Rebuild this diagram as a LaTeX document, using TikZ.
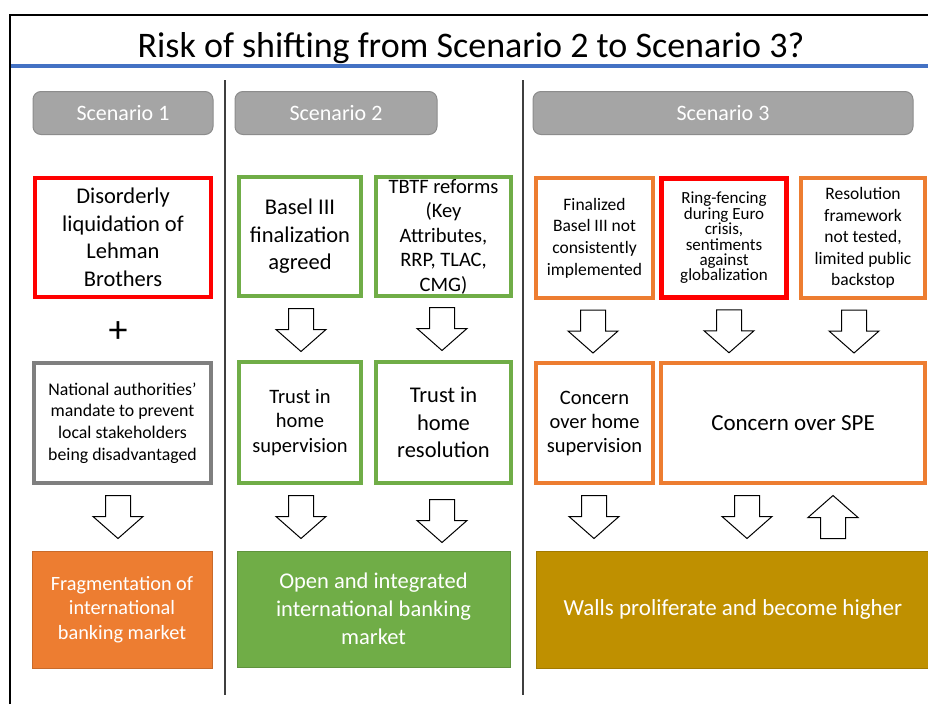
\documentclass[tikz,border=0pt]{standalone}
\usepackage{fontspec}
\setmainfont{Carlito}
\usetikzlibrary{calc}

\definecolor{bred}{HTML}{FF0000}
\definecolor{bgreen}{HTML}{70AD47}
\definecolor{borange}{HTML}{ED7D31}
\definecolor{bgold}{HTML}{BF9000}
\definecolor{bgray}{HTML}{7F7F7F}
\definecolor{hdrfill}{HTML}{A5A5A5}
\definecolor{hdrline}{HTML}{8C8C8C}
\definecolor{titleblue}{HTML}{4472C4}
\definecolor{divider}{HTML}{3F3F3F}

\newcommand{\fs}[2]{\fontsize{#1}{#2}\selectfont}

\tikzset{
  every node/.style={inner sep=0pt, outer sep=0pt, align=center},
  hdr/.style={draw=hdrline, line width=1pt, fill=hdrfill, rounded corners=8pt,
    text=white, font=\fs{22}{26}, minimum height=43pt},
  obox/.style={draw=#1, line width=4pt, fill=white},
  fbox/.style={draw=#1!85!black, line width=1pt, fill=#1, text=white},
  arrowline/.style={draw=black, line width=1pt, fill=white, line join=miter},
  blockdown/.pic={\draw[arrowline] (-12.5,-21.5) -- (12.5,-21.5) -- (12.5,-0.5)
    -- (25,-0.5) -- (0,21.5) -- (-25,-0.5) -- (-12.5,-0.5) -- cycle;},
  blockup/.pic={\draw[arrowline] (-12.5,21.5) -- (12.5,21.5) -- (12.5,0.5)
    -- (25,0.5) -- (0,-21.5) -- (-25,0.5) -- (-12.5,0.5) -- cycle;},
}

% block arrow below node #1, half way down to the top of node #2, shifted by #3
\newcommand{\flowdown}[3]{\pic at ($(#1.south)!0.5!(#1.south|-#2.north)+(#3)$) {blockdown};}
\newcommand{\flowup}[3]{\pic at ($(#1.south)!0.5!(#1.south|-#2.north)+(#3)$) {blockup};}

\begin{document}
\begin{tikzpicture}[x=1pt, y=-1pt]
  \useasboundingbox (0,0) rectangle (928,704);
  \fill[white] (0,0) rectangle (928,704);

  % slide frame, title and rule
  \draw[line width=2.5pt] (10,704) -- (10,15) -- (930,15);
  \node[anchor=base, font=\fs{36}{40}] (title) at (471,57) {Risk of shifting from Scenario 2 to Scenario 3?};
  \draw[titleblue, line width=4pt] (11,66) -- (930,66);

  % column separators
  \draw[divider, line width=1.2pt] (225,80) -- (225,695);
  \draw[divider, line width=1.2pt] (523,80) -- (523,695);

  % column headers
  \node[hdr, minimum width=180pt] (s1) at (123,113) {Scenario 1};
  \node[hdr, minimum width=202pt] (s2) at (336,113) {Scenario 2};
  \node[hdr, minimum width=380pt] (s3) at (723,113) {Scenario 3};

  % first row
  \node[obox=bred, minimum width=176pt, minimum height=119pt, font=\fs{22.5}{27.5}]
    (lehman) at (123,237.5) {Disorderly\\liquidation of\\Lehman\\Brothers};
  \node[obox=bgreen, minimum width=122pt, minimum height=119pt, font=\fs{22.5}{27.5}]
    (basel) at (300,236.5) {Basel III\\finalization\\agreed};
  \node[obox=bgreen, minimum width=135pt, minimum height=119pt, font=\fs{20.5}{24.5}]
    (tbtf) at (443.5,236.5) {TBTF reforms\\(Key\\Attributes,\\RRP, TLAC,\\CMG)};
  \node[obox=borange, minimum width=117pt, minimum height=120pt, font=\fs{17.5}{21.7}]
    (finbasel) at (594.5,238) {Finalized\\Basel III not\\consistently\\implemented};
  \node[obox=bred, line width=5pt, minimum width=125pt, minimum height=119pt, font=\fs{17}{15.4}]
    (ring) at (724,238) {Ring-fencing\\during Euro\\crisis,\\sentiments\\against\\globalization};
  \node[obox=borange, minimum width=124pt, minimum height=120pt, font=\fs{17.5}{21.6}]
    (resfw) at (863,238) {Resolution\\framework\\not tested,\\limited public\\backstop};

  \node[font=\fs{38}{40}] (plus) at (118,332) {+};

  % second row
  \node[obox=bgray, minimum width=177pt, minimum height=120pt, font=\fs{17.8}{21.7}]
    (national) at (122.5,423) {National authorities’\\mandate to prevent\\local stakeholders\\being disadvantaged};
  \node[obox=bgreen, minimum width=122pt, minimum height=121pt, font=\fs{20.5}{24.5}]
    (trustsup) at (300,422.5) {Trust in\\home\\supervision};
  \node[obox=bgreen, minimum width=135pt, minimum height=121pt, font=\fs{22.5}{27.5}]
    (trustres) at (443.5,422.5) {Trust in\\home\\resolution};
  \node[obox=borange, minimum width=117pt, minimum height=120pt, font=\fs{20.5}{24}]
    (concsup) at (594.5,423) {Concern\\over home\\supervision};
  \node[obox=borange, minimum width=264pt, minimum height=120pt, font=\fs{23}{27}]
    (spe) at (793,423) {Concern over SPE};

  % outcomes
  \node[fbox=borange, minimum width=180pt, minimum height=117pt, font=\fs{20.3}{24.5}]
    (frag) at (122,609.5) {Fragmentation of\\international\\banking market};
  \node[fbox=bgreen, minimum width=273pt, minimum height=116pt, font=\fs{22.5}{28}]
    (open) at (373.5,609) {Open and integrated\\international banking\\market};
  \node[fbox=bgold, minimum width=394pt, minimum height=117pt, font=\fs{23}{27}]
    (walls) at (733,609.5) {Walls proliferate and become higher};

  % block arrows between the rows
  \flowdown{basel}{trustsup}{1,1}
  \flowdown{tbtf}{trustres}{-1.5,0}
  \flowdown{finbasel}{concsup}{-1.5,1}
  \flowdown{ring}{spe}{5,1}
  \flowdown{resfw}{spe}{-9,1}

  \flowdown{national}{frag}{-4.5,0}
  \flowdown{trustsup}{open}{1,0}
  \flowdown{trustres}{open}{-1.5,4}
  \flowdown{concsup}{walls}{-0.5,0}
  \flowdown{spe}{walls}{-46,0}
  \flowup{spe}{walls}{40,0}
\end{tikzpicture}
\end{document}
